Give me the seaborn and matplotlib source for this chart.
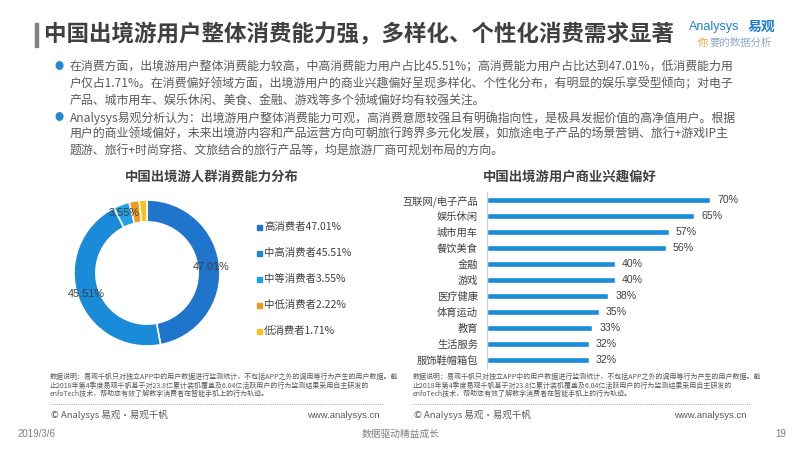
import matplotlib
matplotlib.use('Agg')
import matplotlib.pyplot as plt
from matplotlib.patches import Rectangle
from matplotlib.lines import Line2D
import seaborn as sns
import pandas as pd

# ---------------- data ----------------
main_title = "中国出境游用户整体消费能力强，多样化、个性化消费需求显著"
bullet_lines = [
    "在消费方面，出境游用户整体消费能力较高，中高消费能力用户占比45.51%；高消费能力用户占比达到47.01%，低消费能力用",
    "户仅占1.71%。在消费偏好领域方面，出境游用户的商业兴趣偏好呈现多样化、个性化分布，有明显的娱乐享受型倾向；对电子",
    "产品、城市用车、娱乐休闲、美食、金融、游戏等多个领域偏好均有较强关注。",
    "Analysys易观分析认为：出境游用户整体消费能力可观，高消费意愿较强且有明确指向性，是极具发掘价值的高净值用户。根据",
    "用户的商业领域偏好，未来出境游内容和产品运营方向可朝旅行跨界多元化发展，如旅途电子产品的场景营销、旅行+游戏IP主",
    "题游、旅行+时尚穿搭、文旅结合的旅行产品等，均是旅游厂商可规划布局的方向。",
]
bullet_starts = [0, 3]

donut_title = "中国出境游人群消费能力分布"
donut_names = ["高消费者", "中高消费者", "中等消费者", "中低消费者", "低消费者"]
donut_values = [47.01, 45.51, 3.55, 2.22, 1.71]
donut_colors = ["#1f74cc", "#1a8bd8", "#22a3e6", "#f09a1a", "#f6c21c"]

bar_title = "中国出境游用户商业兴趣偏好"
bar_cats = ["互联网/电子产品", "娱乐休闲", "城市用车", "餐饮美食", "金融", "游戏",
            "医疗健康", "体育运动", "教育", "生活服务", "服饰鞋帽箱包"]
bar_vals = [70, 65, 57, 56, 40, 40, 38, 35, 33, 32, 32]

note_lines = [
    "数据说明：易观千帆只对独立APP中的用户数据进行监测统计，不包括APP之外的调用等行为产生的用户数据。截",
    "止2018年第4季度易观千帆基于对23.8亿累计装机覆盖及6.04亿活跃用户的行为监测结果采用自主研发的",
    "enfoTech技术，帮助您有效了解数字消费者在智能手机上的行为轨迹。",
]
copyright_text = "© Analysys 易观·易观千帆"
site_text = "www.analysys.cn"
footer_date = "2019/3/6"
footer_slogan = "数据驱动精益成长"
footer_page = "19"

# ---------------- style ----------------
sns.set_theme(style='white')
CJK = ['Noto Sans CJK SC', 'DejaVu Sans']
LAT = ['Liberation Sans', 'Noto Sans CJK SC', 'DejaVu Sans']
plt.rcParams['font.family'] = CJK

W, H = 800, 450
fig = plt.figure(figsize=(8, 4.5), dpi=100)
fig.patch.set_facecolor('white')

def fx(x):
    return x / W

def fy(y):
    return 1 - y / H

TXT = '#404040'
BODY = '#595959'

# logo
fig.text(fx(689), fy(27), "Analysys", fontsize=9, color='#1f7fd0',
         family=LAT, va='center', ha='left', zorder=1)
fig.text(fx(748), fy(27), "易观", fontsize=10, fontweight='bold', color='#1f7fd0',
         va='center', ha='left', zorder=1)
fig.text(fx(698), fy(43), "你", fontsize=7.5, color='#f0a030', va='center', ha='left')
fig.text(fx(709), fy(43), "要的数据分析", fontsize=7.5, color='#90aac8', va='center', ha='left')

# title
fig.add_artist(Rectangle((fx(35), fy(47)), 2.5 / W, 24 / H, color='#808080',
                         transform=fig.transFigure))
fig.text(fx(44), fy(35), main_title, fontsize=16.2, fontweight='bold', color=TXT,
         va='center', ha='left', zorder=3)

# bullet text
for i, line in enumerate(bullet_lines):
    y = 67 + i * 16.9
    if i in bullet_starts:
        fig.text(fx(59), fy(y), "●", fontsize=6.5, color='#1f8ad6', va='center', ha='center')
    fig.text(fx(70), fy(y), line, fontsize=8.6, color=BODY, va='center', ha='left')

# ---------------- donut ----------------
fig.text(fx(212), fy(177), donut_title, fontsize=9.6, fontweight='bold', color=TXT,
         va='center', ha='center')
ax1 = fig.add_axes([fx(74), fy(346), 146 / W, 146 / H])
wedges, texts, autotexts = ax1.pie(
    donut_values, colors=donut_colors, startangle=90, counterclock=False, radius=1,
    wedgeprops=dict(width=0.3, edgecolor='white', linewidth=1.2),
    autopct=lambda p: f'{p:.2f}%' if p > 3 else '', pctdistance=0.88,
    textprops=dict(color=TXT, fontsize=7.8, family=LAT))
ax1.set_xlim(-1, 1)
ax1.set_ylim(-1, 1)
ax1.axis('off')

for i, (n, v, c) in enumerate(zip(donut_names, donut_values, donut_colors)):
    y = 227 + i * 26
    fig.add_artist(Rectangle((fx(257), fy(y + 2.5)), 5 / W, 5 / H, color=c,
                             transform=fig.transFigure))
    fig.text(fx(264), fy(y), f"{n}{v:.2f}%", fontsize=7.5, color=TXT, va='center', ha='left')

# ---------------- bars ----------------
fig.text(fx(570), fy(177), bar_title, fontsize=9.6, fontweight='bold', color=TXT,
         va='center', ha='center')
ax2 = fig.add_axes([fx(487), fy(368), 319 / W, 176 / H])
df = pd.DataFrame({'cat': bar_cats, 'val': bar_vals})
sns.barplot(data=df, y='cat', x='val', orient='h', color='#1a8cd8', saturation=1,
            width=0.42, ax=ax2)
ax2.set_xlim(0, 100)
ax2.set_ylim(10.5, -0.5)
ax2.set_xlabel('')
ax2.set_ylabel('')
ax2.set_xticks([])
ax2.set_facecolor('none')
for s in ['top', 'right', 'bottom']:
    ax2.spines[s].set_visible(False)
ax2.spines['left'].set_color('#d0d0d0')
ax2.spines['left'].set_linewidth(0.8)
ax2.tick_params(axis='y', length=0, pad=6.5, labelsize=7.4, labelcolor=TXT)
ax2.bar_label(ax2.containers[0], labels=[f'{v}%' for v in bar_vals], padding=5,
              fontsize=7.6, color=TXT, family=LAT)

# ---------------- footnotes ----------------
for x0, x1 in [(50, 383), (413, 750)]:
    for i, line in enumerate(note_lines):
        fig.text(fx(x0), fy(377 + i * 8.6), line, fontsize=5.0, color=BODY,
                 va='center', ha='left')
    fig.add_artist(Line2D([fx(x0), fx(x1)], [fy(404), fy(404)], color='#a8a8a8',
                          linestyle=(0, (1, 1.2)), linewidth=0.7, transform=fig.transFigure))
    fig.text(fx(x0 + 1), fy(415), copyright_text, fontsize=6.8, color=BODY,
             va='center', ha='left')
    fig.text(fx(x1 - 3), fy(415), site_text, fontsize=6.8, color=BODY, family=LAT,
             va='center', ha='right')

fig.text(fx(18), fy(434), footer_date, fontsize=7, color='#7f7f7f', family=LAT,
         va='center', ha='left')
fig.text(fx(401), fy(434), footer_slogan, fontsize=7, color='#7f7f7f',
         va='center', ha='center')
fig.text(fx(786), fy(434), footer_page, fontsize=7, color='#7f7f7f', family=LAT,
         va='center', ha='right')

fig.savefig('out.png', dpi=100, facecolor='white')
